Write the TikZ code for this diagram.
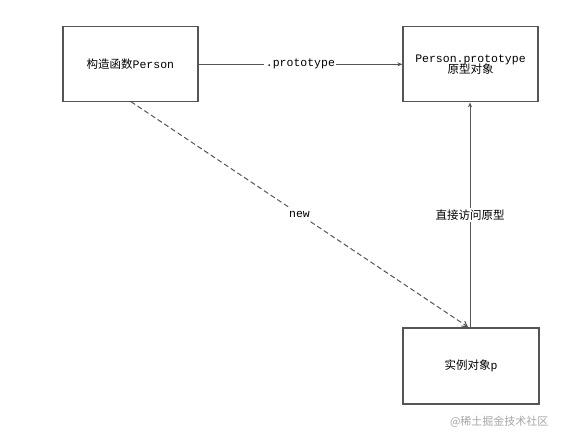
\documentclass[tikz,border=0pt]{standalone}
\usepackage{fontspec}
\setmainfont{Liberation Mono}
\newfontfamily\cjk{Noto Sans CJK SC}
\usetikzlibrary{arrows.meta}
\definecolor{linec}{HTML}{555555}
\tikzset{
  box/.style={draw=linec, line width=1.2pt, minimum width=135pt, minimum height=75pt, inner sep=0pt, align=center, font=\fontsize{11.5}{13}\selectfont},
  conn/.style={draw=linec, line width=1pt, -{Stealth[length=5pt,width=4pt]}},
  lbl/.style={fill=white, inner sep=1.5pt, font=\fontsize{11.5}{13}\selectfont}
}
\begin{document}
\begin{tikzpicture}[x=1pt,y=1pt]
\useasboundingbox (0,0) rectangle (566,443);
\node[box] (ctor) at (130.4,378.7) {{\cjk 构造函数}Person};
\node[box] (proto) at (470.5,378.7) {Person.prototype\\[-2pt]{\cjk 原型对象}};
\node[box, minimum width=136pt, minimum height=76pt] (inst) at (471,77) {{\cjk 实例对象}p};
\draw[conn] (ctor.east) -- node[lbl] (l1) {.prototype} (proto.west);
\draw[conn] (inst.north -| 470,0) -- node[lbl] (l2) {\cjk 直接访问原型} (proto.south -| 470,0);
\coordinate (dstart) at (131,341.3);
\coordinate (dend) at (468,116);
\draw[draw=linec, line width=1pt, dash pattern=on 5pt off 3pt, -{Straight Barb[length=5pt,width=6pt]}] (dstart) -- node[lbl, inner sep=3pt] (l3) {new} (dend);
\node[text=gray!70, font=\cjk\fontsize{11}{13}\selectfont, anchor=east] (wm) at (552,21) {@稀土掘金技术社区};
\end{tikzpicture}
\end{document}
